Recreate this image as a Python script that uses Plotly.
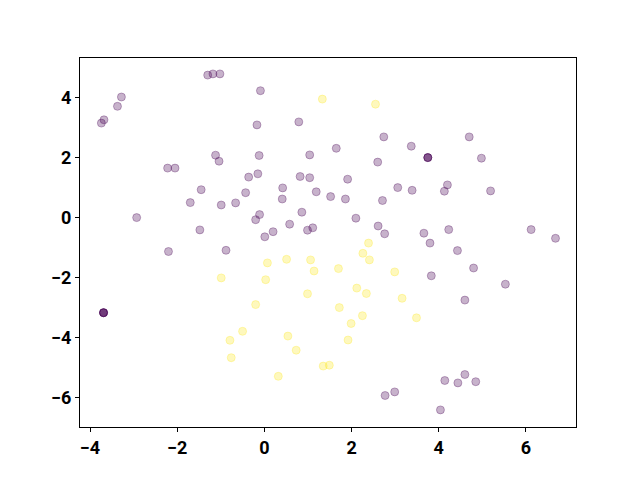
import plotly.graph_objects as go

purple_x = [-1.30, -1.18, -1.02, -0.09, -3.28, -3.37, -3.68, -3.74, -0.17, 0.79,
            -1.12, -1.04, -0.12, 1.04, -2.22, -2.05, -0.36, -0.15, 0.82, 1.04,
            -1.45, 0.42, 1.19, 1.52, -1.70, -0.99, -0.66, -0.43, 0.41, -2.93,
            -0.11, -0.20, 0.86, 0.58, 1.11, 0.99, -1.48, 0.01, 0.20,
            2.74, 1.65, 3.37, 4.70, 3.75, 3.75, 3.75, 4.98, 2.60, 1.91, 3.06,
            3.39, 4.20, 4.13, 5.19, 1.86, 2.71, 2.10, 2.61, 2.76, 3.66,
            4.23, 6.12, 6.68, 3.80, -2.20, -0.88, -3.69, -3.69, -3.69, -3.69,
            4.43, 4.80, 3.83, 5.53, 4.60, 4.60, 4.14, 4.44, 4.85, 2.99,
            2.77, 4.04]
purple_y = [4.76, 4.80, 4.80, 4.24, 4.03, 3.72, 3.27, 3.16, 3.10, 3.20,
            2.09, 1.89, 2.08, 2.10, 1.66, 1.66, 1.36, 1.47, 1.38, 1.34,
            0.94, 1.00, 0.87, 0.71, 0.51, 0.43, 0.50, 0.84, 0.63, 0.01,
            0.11, -0.06, 0.19, -0.21, -0.33, -0.41, -0.40, -0.63, -0.46,
            2.70, 2.32, 2.39, 2.70, 2.01, 2.01, 2.01, 1.99, 1.86, 1.29, 1.01,
            0.92, 1.10, 0.89, 0.90, 0.63, 0.58, -0.01, -0.27, -0.53, -0.51,
            -0.39, -0.39, -0.68, -0.84, -1.12, -1.08, -3.16, -3.16, -3.16, -3.16,
            -1.09, -1.67, -1.93, -2.21, -2.74, -5.22, -5.42, -5.50, -5.46, -5.80,
            -5.92, -6.40]

yellow_x = [1.33, 2.55, 2.39, 0.07, 0.51, 1.06, 1.14, -0.99, 0.03, 0.99,
            -0.20, -0.50, -0.79, -0.76, 0.54, 0.73, 0.32, 1.35, 1.49,
            2.26, 2.41, 1.70, 2.99, 2.12, 2.34, 3.16, 1.72, 2.25, 3.49,
            1.99, 1.92]
yellow_y = [3.96, 3.79, -0.84, -1.50, -1.38, -1.40, -1.77, -2.00, -2.06, -2.53,
            -2.89, -3.78, -4.08, -4.66, -3.94, -4.41, -5.28, -4.94, -4.91,
            -1.18, -1.40, -1.69, -1.80, -2.34, -2.52, -2.68, -2.99, -3.26, -3.33,
            -3.52, -4.07]

x_ticks = [-4, -2, 0, 2, 4, 6]
y_ticks = [-6, -4, -2, 0, 2, 4]

fig = go.Figure()
for xs, ys, col in [(purple_x, purple_y, "rgba(68,1,84,0.3)"),
                    (yellow_x, yellow_y, "rgba(253,231,37,0.3)")]:
    fig.add_trace(go.Scatter(
        x=xs, y=ys, mode="markers",
        marker=dict(size=8, color=col, line=dict(color=col, width=1)),
        showlegend=False, hoverinfo="skip"))

axis_common = dict(showgrid=False, zeroline=False, showline=True, linecolor="black",
                   linewidth=1, mirror=True, ticks="outside", ticklen=4,
                   tickcolor="black", tickwidth=1,
                   tickfont=dict(family="Roboto", size=18, color="black", weight="bold"))
fig.update_xaxes(range=[-4.23, 7.15], tickvals=x_ticks,
                 ticktext=[str(v).replace("-", "\u2212") for v in x_ticks], **axis_common)
fig.update_yaxes(range=[-6.97, 5.33], tickvals=y_ticks,
                 ticktext=[str(v).replace("-", "\u2212") for v in y_ticks], **axis_common)
fig.update_layout(width=640, height=480, plot_bgcolor="white", paper_bgcolor="white",
                  margin=dict(l=72, r=72, t=50, b=61))
fig.write_html("out.html")
